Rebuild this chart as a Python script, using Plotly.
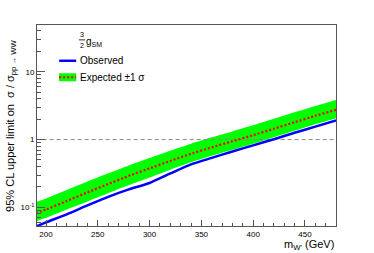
import plotly.graph_objects as go

# ---- data ----
mass = [190, 200, 220, 240, 260, 280, 300, 320, 340, 360, 380, 400, 420, 440, 460, 480]
observed = [0.052, 0.060, 0.079, 0.107, 0.143, 0.184, 0.229, 0.316, 0.431, 0.537,
            0.668, 0.822, 1.01, 1.26, 1.55, 1.92]
expected = [0.082, 0.093, 0.124, 0.166, 0.221, 0.292, 0.376, 0.484, 0.617, 0.767,
            0.944, 1.16, 1.445, 1.80, 2.24, 2.75]
band_up = [0.119, 0.135, 0.180, 0.240, 0.318, 0.416, 0.533, 0.683, 0.868, 1.08,
           1.32, 1.62, 2.02, 2.52, 3.13, 3.85]
band_dn = [0.062, 0.070, 0.093, 0.122, 0.161, 0.213, 0.276, 0.360, 0.462, 0.575,
           0.705, 0.870, 1.085, 1.35, 1.68, 2.07]
reference_level = [1, 1]
x_tickvals = [200, 250, 300, 350, 400, 450]
y_tickvals = [0.1, 1, 10]
y_ticktext = ["10<sup>-1</sup>", "1", "10"]
y_minor = [0.06, 0.07, 0.08, 0.09, 0.2, 0.3, 0.4, 0.5, 0.6, 0.7, 0.8, 0.9,
           2, 3, 4, 5, 6, 7, 8, 9, 20, 30, 40]

FONT = "Liberation Sans, Arial, Helvetica, sans-serif"

fig = go.Figure()
fig.add_trace(go.Scatter(x=mass, y=band_up, mode="lines", line=dict(width=0, shape="spline", smoothing=0.5),
                         showlegend=False, hoverinfo="skip"))
fig.add_trace(go.Scatter(x=mass, y=band_dn, mode="lines", line=dict(width=0, shape="spline", smoothing=0.5),
                         fill="tonexty", fillcolor="#00ff00", showlegend=False))
fig.add_trace(go.Scatter(x=[mass[0], mass[-1]], y=reference_level, mode="lines",
                         line=dict(color="#888888", width=1, dash="4px,3px"),
                         showlegend=False))
fig.add_trace(go.Scatter(x=mass, y=expected, mode="lines",
                         line=dict(color="#ff0000", width=2.2, dash="2px,2px", shape="spline", smoothing=0.5),
                         showlegend=False))
fig.add_trace(go.Scatter(x=mass, y=observed, mode="lines",
                         line=dict(color="#0000ff", width=2.5, shape="spline", smoothing=0.6),
                         showlegend=False))

fig.update_layout(
    width=374, height=253,
    margin=dict(l=37, r=38, t=25, b=27),
    paper_bgcolor="white", plot_bgcolor="white",
    font=dict(family=FONT, size=8, color="black"),
    showlegend=False,
)
fig.update_xaxes(
    range=[191.3, 480], showgrid=False, zeroline=False,
    showline=True, linecolor="#555555", linewidth=1, mirror=True,
    ticks="inside", ticklen=6, tickcolor="#555555",
    tickvals=x_tickvals, tickfont=dict(size=8),
    minor=dict(dtick=10, ticks="inside", ticklen=3, tickcolor="#555555"),
)
fig.update_yaxes(
    type="log", range=[-1.275, 1.69], showgrid=False, zeroline=False,
    showline=True, linecolor="#555555", linewidth=1, mirror=True,
    ticks="inside", ticklen=8, tickcolor="#555555",
    tickvals=y_tickvals, ticktext=y_ticktext, tickfont=dict(size=8),
    minor=dict(tickvals=y_minor, ticks="inside", ticklen=4, tickcolor="#555555"),
)

# axis titles
fig.add_annotation(xref="paper", yref="paper", x=-0.089, y=0.5,
                   text="95% CL upper limit on  σ / σ<sub>pp → WW</sub>",
                   textangle=-90, showarrow=False, font=dict(size=11),
                   xanchor="center", yanchor="middle")
fig.add_annotation(xref="paper", yref="paper", x=1.0, y=-0.095,
                   text="m<sub>W'</sub> (GeV)", showarrow=False,
                   font=dict(size=11), xanchor="right", yanchor="middle")

# legend header: 3/2 g_SM
fig.add_annotation(xref="paper", yref="paper", x=0.15, y=0.955, text="3",
                   showarrow=False, font=dict(size=7), xanchor="center", yanchor="middle")
fig.add_annotation(xref="paper", yref="paper", x=0.15, y=0.897, text="2",
                   showarrow=False, font=dict(size=7), xanchor="center", yanchor="middle")
fig.add_shape(type="line", xref="paper", yref="paper", x0=0.14, x1=0.161,
              y0=0.926, y1=0.926, line=dict(color="black", width=0.8))
fig.add_annotation(xref="paper", yref="paper", x=0.157, y=0.915,
                   text="g<sub>SM</sub>", showarrow=False, font=dict(size=10),
                   xanchor="left", yanchor="middle")

# legend entries
fig.add_shape(type="line", xref="paper", yref="paper", x0=0.074, x1=0.131,
              y0=0.822, y1=0.822, line=dict(color="#0000ff", width=2.5))
fig.add_annotation(xref="paper", yref="paper", x=0.138, y=0.822, text="Observed",
                   showarrow=False, font=dict(size=10), xanchor="left", yanchor="middle")
fig.add_shape(type="rect", xref="paper", yref="paper", x0=0.074, x1=0.131,
              y0=0.72, y1=0.76, line=dict(width=0), fillcolor="#00ff00")
fig.add_shape(type="line", xref="paper", yref="paper", x0=0.074, x1=0.131,
              y0=0.74, y1=0.74, line=dict(color="#ff0000", width=2, dash="2px,2px"))
fig.add_annotation(xref="paper", yref="paper", x=0.138, y=0.74, text="Expected ±1 σ",
                   showarrow=False, font=dict(size=10), xanchor="left", yanchor="middle")

fig.write_html("out.html", config={"displayModeBar": False},
               post_script="document.body.style.margin='0';document.body.style.padding='0';")
